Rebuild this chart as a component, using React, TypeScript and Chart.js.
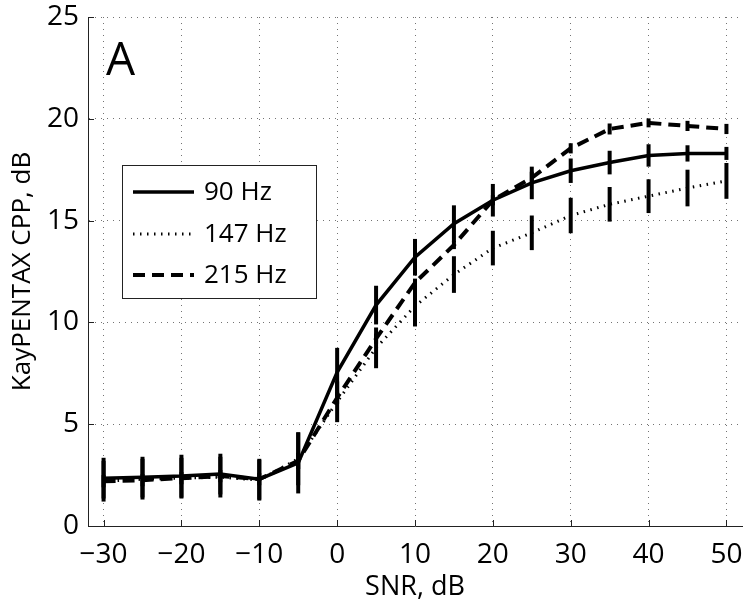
import React, { useEffect, useRef } from 'react';
import { Chart, registerables } from 'chart.js';

Chart.register(...registerables);

// ---- data ----
const snr = [-30, -25, -20, -15, -10, -5, 0, 5, 10, 15, 20, 25, 30, 35, 40, 45, 50];
const cpp90 = [2.35, 2.4, 2.45, 2.55, 2.3, 3.1, 7.55, 10.85, 13.2, 14.85, 16.0, 16.85, 17.45, 17.85, 18.2, 18.3, 18.3];
const cpp147 = [2.2, 2.3, 2.35, 2.4, 2.25, 3.3, 6.1, 8.75, 10.8, 12.35, 13.65, 14.4, 15.25, 15.8, 16.2, 16.6, 16.95];
const cpp215 = [2.2, 2.25, 2.35, 2.45, 2.3, 3.2, 6.3, 9.2, 11.95, 13.8, 16.0, 17.1, 18.55, 19.5, 19.8, 19.65, 19.5];
const err90 = [1.0, 1.0, 1.05, 1.0, 1.0, 1.5, 1.2, 0.95, 0.9, 0.9, 0.8, 0.8, 0.6, 0.58, 0.55, 0.4, 0.32];
const err147 = [1.0, 1.0, 1.0, 1.0, 1.0, 1.3, 1.0, 1.0, 1.0, 0.9, 0.85, 0.85, 0.87, 0.85, 0.83, 0.9, 0.88];
const err215 = [0.3, 0.3, 0.3, 0.3, 0.3, 0.4, 0.3, 0.25, 0.2, 0.2, 0.25, 0.3, 0.25, 0.27, 0.22, 0.25, 0.25];
const seriesLabels = ['90 Hz', '147 Hz', '215 Hz'];
const xTicks = [-30, -20, -10, 0, 10, 20, 30, 40, 50];
const xTickLabels = ['\u221230', '\u221220', '\u221210', '0', '10', '20', '30', '40', '50'];
const yTicks = [0, 5, 10, 15, 20, 25];
const yTickLabels = ['0', '5', '10', '15', '20', '25'];
const panelLabel = 'A';
const xTitle = 'SNR, dB';
const yTitle = 'KayPENTAX CPP, dB';

const FONT = "'Open Sans', 'Noto Sans', sans-serif";

export default function App() {
  const ref = useRef<HTMLCanvasElement>(null);

  useEffect(() => {
    const errs = [err90, err147, err215];

    const extras = {
      id: 'extras',
      afterDatasetsDraw(chart: any) {
        const { ctx, scales } = chart;
        const xs = scales.x;
        const ys = scales.y;
        ctx.save();
        ctx.strokeStyle = '#000';
        ctx.lineWidth = 4;
        ctx.lineCap = 'butt';
        ctx.setLineDash([]);
        chart.data.datasets.forEach((ds: any, di: number) => {
          ds.data.forEach((p: any, i: number) => {
            const e = errs[di][i];
            const px = xs.getPixelForValue(p.x);
            ctx.beginPath();
            ctx.moveTo(px, ys.getPixelForValue(p.y - e));
            ctx.lineTo(px, ys.getPixelForValue(p.y + e));
            ctx.stroke();
          });
        });
        ctx.restore();
      },
      afterDraw(chart: any) {
        const { ctx, scales, chartArea } = chart;
        const xs = scales.x;
        const ys = scales.y;
        ctx.save();
        // inward tick marks
        ctx.strokeStyle = '#222';
        ctx.lineWidth = 1;
        ctx.setLineDash([]);
        xTicks.forEach((v) => {
          const px = Math.round(xs.getPixelForValue(v)) + 0.5;
          ctx.beginPath();
          ctx.moveTo(px, chartArea.bottom);
          ctx.lineTo(px, chartArea.bottom - 6);
          ctx.stroke();
        });
        yTicks.forEach((v) => {
          const py = Math.round(ys.getPixelForValue(v)) + 0.5;
          ctx.beginPath();
          ctx.moveTo(chartArea.left, py);
          ctx.lineTo(chartArea.left + 6, py);
          ctx.stroke();
        });
        // panel label
        ctx.fillStyle = '#000';
        ctx.font = `46px ${FONT}`;
        ctx.textAlign = 'left';
        ctx.textBaseline = 'alphabetic';
        ctx.fillText(panelLabel, 106, 75);
        // legend
        const bx = 122, by = 165, bw = 194, bh = 133;
        ctx.fillStyle = '#fff';
        ctx.fillRect(bx, by, bw, bh);
        ctx.strokeStyle = '#222';
        ctx.lineWidth = 1;
        ctx.strokeRect(bx + 0.5, by + 0.5, bw, bh);
        const rows = [192, 234, 275];
        chart.data.datasets.forEach((ds: any, di: number) => {
          const y = rows[di];
          ctx.strokeStyle = '#000';
          ctx.lineWidth = ds.borderWidth;
          ctx.setLineDash(ds.borderDash || []);
          ctx.beginPath();
          ctx.moveTo(133, y);
          ctx.lineTo(194, y);
          ctx.stroke();
          ctx.setLineDash([]);
          ctx.fillStyle = '#000';
          ctx.font = `26px ${FONT}`;
          ctx.textBaseline = 'middle';
          ctx.fillText(ds.label, 204, y + 1);
        });
        ctx.restore();
      },
    };

    const mk = (vals: number[]) => snr.map((x, i) => ({ x, y: vals[i] }));

    const chart = new Chart(ref.current as HTMLCanvasElement, {
      type: 'line',
      data: {
        datasets: [
          { label: seriesLabels[0], data: mk(cpp90), borderColor: '#000', borderWidth: 3.5, pointRadius: 0, borderDash: [], tension: 0, fill: false },
          { label: seriesLabels[1], data: mk(cpp147), borderColor: '#000', borderWidth: 3, pointRadius: 0, borderDash: [1.5, 5.5], tension: 0, fill: false },
          { label: seriesLabels[2], data: mk(cpp215), borderColor: '#000', borderWidth: 4, pointRadius: 0, borderDash: [12, 7], tension: 0, fill: false },
        ],
      },
      plugins: [extras],
      options: {
        responsive: false,
        animation: false,
        devicePixelRatio: 1,
        layout: { padding: { top: 17, right: 9, left: 0, bottom: 0 } },
        plugins: { legend: { display: false }, tooltip: { enabled: false } },
        scales: {
          x: {
            type: 'linear',
            min: -32,
            max: 52,
            afterBuildTicks: (s: any) => { s.ticks = xTicks.map((v) => ({ value: v })); },
            afterFit: (s: any) => { s.height = 82; s.paddingLeft = 0; s.paddingRight = 0; s.paddingTop = 0; s.paddingBottom = 0; },
            ticks: {
              callback: (_v: any, i: number) => xTickLabels[i],
              font: { family: FONT, size: 28 },
              color: '#000',
              padding: 12,
              maxRotation: 0,
              autoSkip: false,
            },
            grid: { color: 'rgba(0,0,0,0.55)', lineWidth: 1, drawTicks: false },
            border: { display: true, color: '#222', width: 1, dash: [1, 5] },
            title: { display: true, text: xTitle, font: { family: FONT, size: 27 }, color: '#000', padding: { top: 0, bottom: 4 } },
          },
          y: {
            type: 'linear',
            min: 0,
            max: 25,
            afterBuildTicks: (s: any) => { s.ticks = yTicks.map((v) => ({ value: v })); },
            afterFit: (s: any) => { s.width = 88; s.paddingLeft = 0; s.paddingRight = 0; s.paddingTop = 0; s.paddingBottom = 0; },
            ticks: {
              callback: (_v: any, i: number) => yTickLabels[i],
              font: { family: FONT, size: 28 },
              color: '#000',
              padding: 9,
              autoSkip: false,
            },
            grid: { color: 'rgba(0,0,0,0.55)', lineWidth: 1, drawTicks: false },
            border: { display: true, color: '#222', width: 1, dash: [1, 5] },
            title: { display: true, text: yTitle, font: { family: FONT, size: 26 }, color: '#000', padding: { top: 7, bottom: 0 } },
          },
        },
      },
    } as any);
    return () => chart.destroy();
  }, []);

  return (
    <div style={{ position: 'absolute', left: 0, top: 0, width: 751, height: 608, background: '#fff' }}>
      <canvas ref={ref} width={751} height={608} />
    </div>
  );
}
